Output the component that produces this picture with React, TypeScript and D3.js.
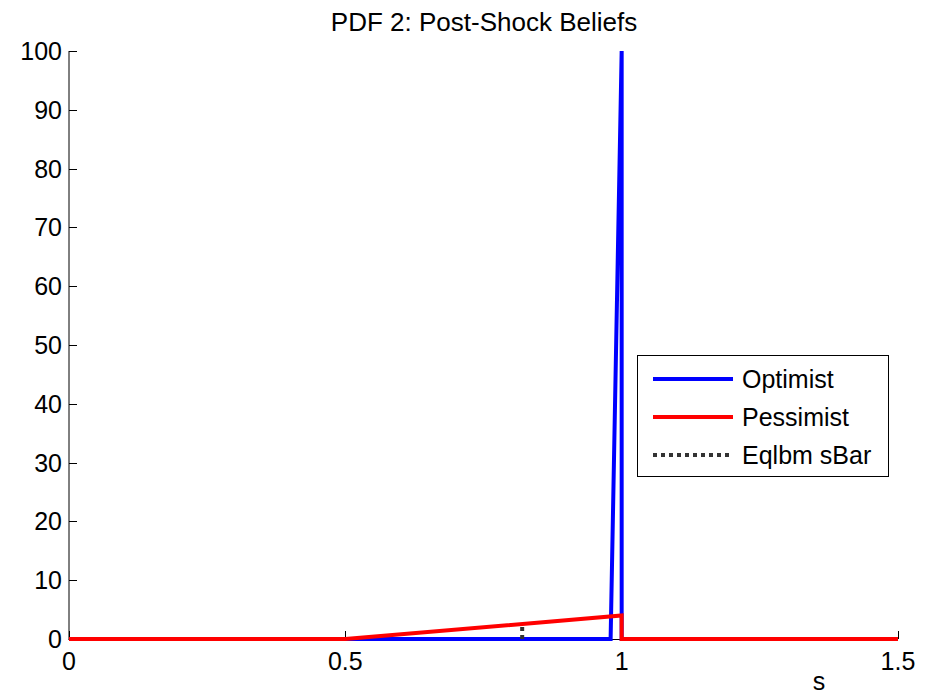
import React from "react";
import * as d3 from "d3";

const optimistX = [0, 0.98, 1.0, 1.0, 1.5];
const optimistY = [0, 0, 100, 0, 0];
const pessimistX = [0, 0.5, 1.0, 1.0, 1.5];
const pessimistY = [0, 0, 4, 0, 0];
const sBar = 0.82;
const sBarTop = 2.56;
const xTicks = [0, 0.5, 1, 1.5];
const xTickLabels = ["0", "0.5", "1", "1.5"];
const yTicks = [0, 10, 20, 30, 40, 50, 60, 70, 80, 90, 100];
const legendNames = ["Optimist", "Pessimist", "Eqlbm sBar"];

export default function App() {
  const W = 932, H = 695;
  const x = d3.scaleLinear().domain([0, 1.5]).range([69, 898]);
  const y = d3.scaleLinear().domain([0, 100]).range([639, 51]);
  const line = d3.line<[number, number]>().x(d => x(d[0])).y(d => y(d[1]));
  const opt = optimistX.map((v, i) => [v, optimistY[i]] as [number, number]);
  const pes = pessimistX.map((v, i) => [v, pessimistY[i]] as [number, number]);
  const font = "Liberation Sans, Arial, sans-serif";
  const legendColors = ["#0000ff", "#ff0000", "#333333"];
  const legendRows = [379, 417, 455];
  return (
    <svg width={W} height={H} style={{ position: "absolute", left: 0, top: 0, background: "#fff" }} fontFamily={font}>
      <rect x={0} y={0} width={W} height={H} fill="#fff" />
      <text x={484} y={31} textAnchor="middle" fontSize={26}>PDF 2: Post-Shock Beliefs</text>
      {/* axes */}
      <line x1={69} y1={51} x2={69} y2={639.5} stroke="#000" strokeWidth={1} />
      <line x1={68.5} y1={639.5} x2={898} y2={639.5} stroke="#000" strokeWidth={1} />
      {yTicks.map(t => (
        <g key={"y" + t}>
          <line x1={69} x2={77} y1={Math.round(y(t)) + 0.5} y2={Math.round(y(t)) + 0.5} stroke="#000" />
          <text x={62} y={y(t) + 9} textAnchor="end" fontSize={25}>{t}</text>
        </g>
      ))}
      {xTicks.map((t, i) => (
        <g key={"x" + t}>
          <line x1={Math.round(x(t)) + 0.5} x2={Math.round(x(t)) + 0.5} y1={639} y2={631} stroke="#000" />
          <text x={x(t)} y={670} textAnchor="middle" fontSize={25}>{xTickLabels[i]}</text>
        </g>
      ))}
      <text x={819} y={690} textAnchor="middle" fontSize={25}>s</text>
      {/* data */}
      <path d={line(opt) || ""} fill="none" stroke="#0000ff" strokeWidth={4} strokeLinejoin="miter" />
      <path d={line(pes) || ""} fill="none" stroke="#ff0000" strokeWidth={4} />
      <line x1={x(sBar)} x2={x(sBar)} y1={y(0)} y2={y(sBarTop)} stroke="#333333" strokeWidth={4} strokeDasharray="4 4" />
      {/* legend */}
      <rect x={637.5} y={355.5} width={251} height={121} fill="#fff" stroke="#000" strokeWidth={1} />
      {legendNames.map((n, i) => (
        <g key={n}>
          <line x1={653} x2={733} y1={legendRows[i]} y2={legendRows[i]} stroke={legendColors[i]} strokeWidth={4}
            strokeDasharray={i === 2 ? "4 4" : undefined} />
          <text x={742} y={legendRows[i] + 9} fontSize={25}>{n}</text>
        </g>
      ))}
    </svg>
  );
}
